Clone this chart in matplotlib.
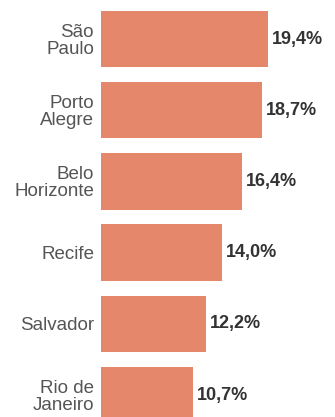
import matplotlib
matplotlib.use("Agg")
import matplotlib.pyplot as plt

## Data
cities = ["São\nPaulo", "Porto\nAlegre", "Belo\nHorizonte", "Recife", "Salvador", "Rio de\nJaneiro"]
values = [19.4, 18.7, 16.4, 14.0, 12.2, 10.7]
labels = ["19,4%", "18,7%", "16,4%", "14,0%", "12,2%", "10,7%"]

plt.rcParams['font.family'] = ['Liberation Sans', 'DejaVu Sans']

fig = plt.figure(figsize=(3.35, 4.17), dpi=100)
ax = fig.add_axes([101/335, 0, 234/335, 1])

ypos = list(range(len(cities)))
ax.barh(ypos, values, height=0.79, color='#e5876b')

## Value labels
for y, v, t in zip(ypos, values, labels):
    ax.text(v + 0.45, y, t, va='center', ha='left', fontsize=13, fontweight='bold', color='#333333')

ax.set_yticks(ypos)
ax.set_yticklabels(cities, fontsize=13.5, color='#555555', linespacing=1.0)
ax.tick_params(axis='y', length=0, pad=5)
ax.set_xticks([])
ax.set_xlim(0, 234/8.62)
ax.set_ylim(5.309, -0.548)
for s in ax.spines.values():
    s.set_visible(False)

fig.savefig("out.png", dpi=100)
